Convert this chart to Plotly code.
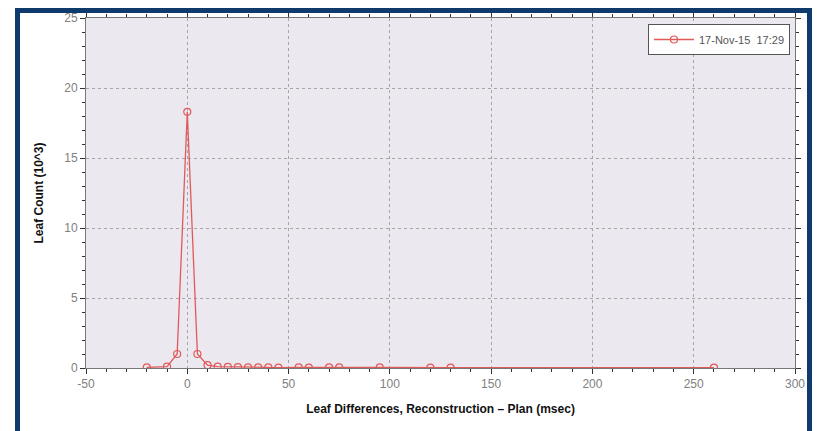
import plotly.graph_objects as go

# Leaf timing differences (msec) and leaf counts (thousands)
diff_msec = [-20, -10, -5, 0, 5, 10, 15, 20, 25, 30, 35, 40, 45, 55, 60, 70, 75, 95, 120, 130, 260]
leaf_count = [0.05, 0.1, 1.0, 18.3, 1.0, 0.2, 0.1, 0.08, 0.06, 0.05, 0.05, 0.04, 0.03, 0.04,
              0.03, 0.04, 0.04, 0.05, 0.03, 0.03, 0.02]
series_name = "17-Nov-15  17:29"

x_ticks = [-50, 0, 50, 100, 150, 200, 250, 300]
y_ticks = [0, 5, 10, 15, 20, 25]

W, H = 819, 431
L, R, T, B = 86, 24, 18, 63
pw, ph = W - L - R, H - T - B


def px_x(p):
    return (p - L) / pw


def px_y(p):
    return (H - B - p) / ph


red = "#e05a5a"

fig = go.Figure()
fig.add_trace(go.Scatter(
    x=diff_msec, y=leaf_count, mode="lines+markers", name=series_name,
    line=dict(color=red, width=1.3),
    marker=dict(symbol="circle-open", size=7, color=red, line=dict(width=1.2)),
))

axis_common = dict(
    showline=True, linecolor="#777777", linewidth=1, mirror="ticks",
    ticks="outside", ticklen=5, tickcolor="#333333",
    showgrid=True, gridcolor="#a5a5a5", griddash="dot", gridwidth=1,
    zeroline=False,
    tickfont=dict(family="Liberation Sans, Arial", size=12, color="#808080"),
    title_font=dict(family="Liberation Sans, Arial", size=12, color="#111111"),
)

fig.update_xaxes(
    range=[-50, 300], tickvals=x_ticks, ticktext=[str(v) for v in x_ticks],
    minor=dict(dtick=10, ticks="outside", ticklen=3, tickcolor="#333333"),
    title_text="<b>Leaf Differences, Reconstruction \u2013 Plan (msec)</b>",
    title_standoff=14, **axis_common,
)
fig.update_yaxes(
    range=[0, 25], tickvals=y_ticks, ticktext=[str(v) for v in y_ticks],
    minor=dict(dtick=1, ticks="outside", ticklen=3, tickcolor="#333333"),
    title_text="<b>Leaf Count (10^3)</b>",
    title_standoff=18, **axis_common,
)

# Dark frame around the whole chart panel
fig.add_shape(
    type="rect", xref="paper", yref="paper",
    x0=px_x(17.5), x1=px_x(809.5), y0=px_y(445), y1=px_y(10.5),
    line=dict(color="#0f3a6e", width=5), fillcolor="rgba(0,0,0,0)", layer="above",
)

fig.update_layout(
    width=W, height=H,
    margin=dict(l=L, r=R, t=T, b=B),
    paper_bgcolor="white", plot_bgcolor="#ebe8ef",
    showlegend=True,
    legend=dict(
        x=px_x(790), y=px_y(24), xanchor="right", yanchor="top",
        bgcolor="white", bordercolor="#555555", borderwidth=1,
        font=dict(family="Liberation Sans, Arial", size=11, color="#555555"),
        itemwidth=40, tracegroupgap=0,
    ),
)

fig.write_html("out.html")
